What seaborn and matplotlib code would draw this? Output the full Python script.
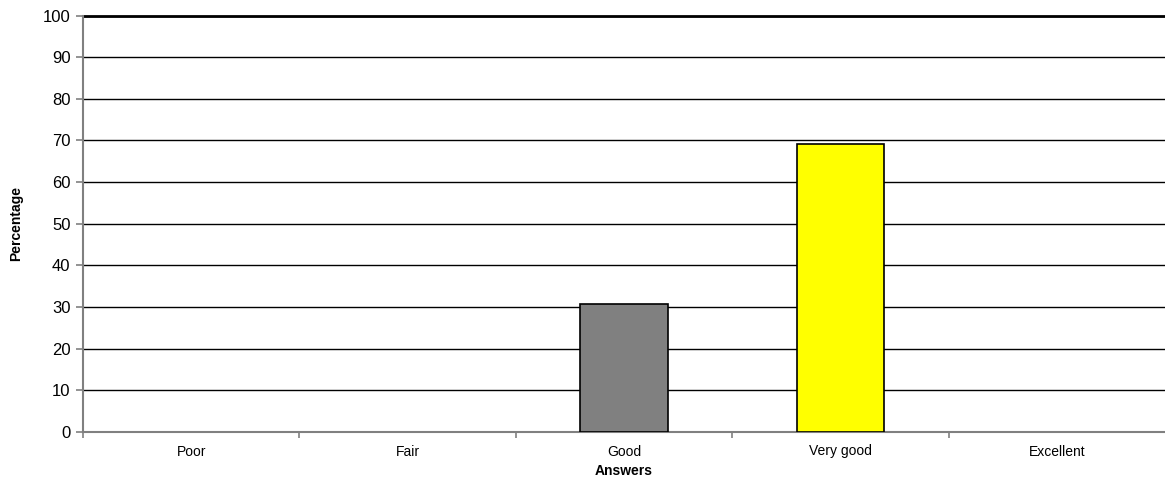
import pandas as pd
import seaborn as sns
import matplotlib.pyplot as plt

answers = ["Poor", "Fair", "Good", "Very good", "Excellent"]
percentages = [0, 0, 30.77, 69.23, 0]
bar_colors = ["#808080", "#808080", "#808080", "#ffff00", "#808080"]

df = pd.DataFrame({"answer": answers, "pct": percentages})

sns.set_style("white")
plt.rcParams["font.family"] = ["Liberation Sans", "DejaVu Sans"]
plt.rcParams["text.color"] = "black"
plt.rcParams["axes.labelcolor"] = "black"
plt.rcParams["xtick.color"] = "black"
plt.rcParams["ytick.color"] = "black"

fig = plt.figure(figsize=(11.65, 4.84), dpi=100)
ax = fig.add_axes([83 / 1165, 52 / 484, 1 - 83 / 1165, (432 - 15.5) / 484])

sns.barplot(data=df, x="answer", y="pct", hue="answer", palette=bar_colors,
            legend=False, width=0.405, edgecolor="black", linewidth=1.2,
            saturation=1, ax=ax, zorder=3)

# empty categories should not leave an outline on the baseline
for p in ax.patches:
    if p.get_height() == 0:
        p.set_linewidth(0)

ax.set_ylim(0, 100)
ax.set_xlim(-0.5, 4.5)
ax.set_yticks(range(0, 101, 10))
ax.yaxis.grid(True, color="black", linewidth=1, zorder=0)
ax.set_axisbelow(True)
# top line at 100 is a bit heavier
ax.axhline(100, color="black", linewidth=2, clip_on=False)

# category ticks sit at the boundaries
ax.set_xticks([i - 0.5 for i in range(5)], minor=False)
ax.set_xticklabels([])
ax.set_xticks(range(5), minor=True)
ax.set_xticklabels(answers, minor=True, fontsize=10)
ax.tick_params(axis="x", which="minor", bottom=False, length=0, pad=9,
               labelcolor="black")
ax.tick_params(axis="x", which="major", bottom=True, length=4,
               color="#808080", width=1.2)
ax.tick_params(axis="y", left=True, length=5, color="#808080", width=1.2,
               labelsize=12, pad=4, labelcolor="black")

for side in ["top", "right"]:
    ax.spines[side].set_visible(False)
for side in ["left", "bottom"]:
    ax.spines[side].set_color("#808080")
    ax.spines[side].set_linewidth(1.5)

ax.set_xlabel("Answers", fontsize=10, fontweight="bold", labelpad=4)
ax.set_ylabel("Percentage", fontsize=10, fontweight="bold", labelpad=14)

fig.savefig("out.png", dpi=100)
